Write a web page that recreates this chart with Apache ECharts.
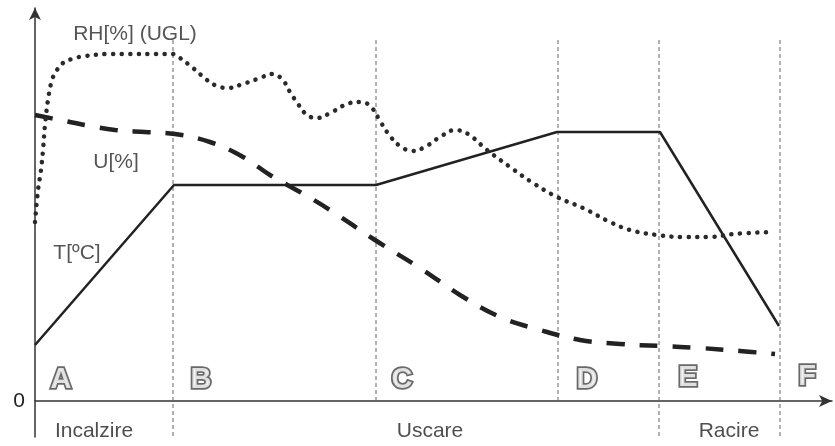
<!DOCTYPE html>
<html>
<head>
<meta charset="utf-8">
<script src="https://cdn.jsdelivr.net/npm/echarts@6/dist/echarts.min.js"></script>
<style>
  html, body { margin: 0; padding: 0; background: #fff; }
  #chart { width: 835px; height: 446px; }
</style>
</head>
<body>
<div id="chart"></div>
<script>
// relative units: x = time along the process, y = level (no scale printed)
var tempPts = [[0, 56], [139, 216], [341, 216], [522, 269], [625, 269], [744, 75]];

var moistPts = [
  [0, 286], [25, 281], [55, 275], [80, 271], [110, 269], [140, 267], [175, 259],
  [208, 244], [235, 226], [265, 209], [295, 191], [340, 161], [385, 133], [425, 106],
  [465, 84], [505, 71], [545, 61], [585, 57], [625, 55], [665, 53], [705, 50], [740, 47]
];

var rhPts = [
  [0, 179], [3, 211], [6, 231], [8, 251], [10, 276], [13, 301], [17, 321], [22, 331],
  [28, 338], [37, 342], [50, 345], [75, 347], [138, 347], [145, 343], [158, 333],
  [172, 321], [182, 315], [193, 313], [205, 316], [225, 323], [237, 327], [247, 322],
  [255, 309], [263, 297], [272, 286], [282, 283], [297, 289], [315, 298], [327, 299],
  [337, 293], [345, 280], [355, 265], [365, 255], [377, 250], [390, 254], [405, 264],
  [420, 271], [433, 267], [452, 251], [475, 234], [498, 218], [522, 204], [548, 193],
  [575, 179], [595, 171], [622, 166], [648, 164], [675, 164], [698, 167], [738, 169]
];

// phase boundaries: x, top, bottom
var bounds = [[138, 361, -36], [341, 361, 0], [523, 361, 0], [624, 361, -36], [745, 361, -36]];

var phaseLetters = [[26, 21, 'A'], [166, 21, 'B'], [367, 21, 'C'], [552, 21, 'D'], [653, 23, 'E'], [772, 24, 'F']];
var phaseNames = [[59, -30, 'Incalzire'], [395, -30, 'Uscare'], [694, -30, 'Racire']];
var curveNames = [[100, 367, 'RH[%] (UGL)'], [81, 239, 'U[%]'], [42, 148, 'T[ºC]']];

var font = '"Liberation Sans", Arial, sans-serif';

var series = [];
bounds.forEach(function (b) {
  series.push({
    type: 'line', data: [[b[0], b[1]], [b[0], b[2]]], symbol: 'none', silent: true,
    lineStyle: { color: '#666', width: 1, type: [4, 3] }, z: 1
  });
});
series.push({
  name: 'T', type: 'line', data: tempPts, symbol: 'none',
  lineStyle: { color: '#222', width: 2.5 }, z: 5
});
series.push({
  name: 'U', type: 'line', data: moistPts, symbol: 'none', smooth: 0.4,
  lineStyle: { color: '#222', width: 4.5, type: [18, 15] }, z: 5
});
series.push({
  name: 'RH', type: 'line', data: rhPts, symbol: 'none', smooth: 0.4,
  lineStyle: { color: '#2a2a2a', width: 4.5, type: [0.1, 8.5], cap: 'round' }, z: 5
});
series.push({
  type: 'scatter', symbolSize: 0, data: curveNames, z: 6,
  label: { show: true, position: 'inside', formatter: function (p) { return p.value[2]; },
    color: '#2a2a2a', fontSize: 21, fontFamily: font }
});
series.push({
  type: 'scatter', symbolSize: 0, data: phaseNames, z: 6,
  label: { show: true, position: 'inside', formatter: function (p) { return p.value[2]; },
    color: '#222', fontSize: 21, fontFamily: font }
});
series.push({
  type: 'scatter', symbolSize: 0, data: phaseLetters, z: 6,
  label: { show: true, position: 'inside', formatter: function (p) { return p.value[2]; },
    color: '#fff', fontSize: 29, fontWeight: 'bold', fontFamily: font,
    textBorderColor: '#444', textBorderWidth: 3.5 }
});

var option = {
  animation: false,
  grid: { left: 35, top: 8, width: 797, height: 429 },
  xAxis: {
    type: 'value', min: 0, max: 797,
    axisLine: { onZero: true, symbol: ['none', 'arrow'], symbolSize: [9, 13],
      lineStyle: { color: '#333', width: 1.5 } },
    axisTick: { show: false }, axisLabel: { show: false }, splitLine: { show: false }
  },
  yAxis: {
    type: 'value', min: -36, max: 393, interval: 12,
    axisLine: { show: true, onZero: false, symbol: ['none', 'arrow'], symbolSize: [9, 12],
      lineStyle: { color: '#333', width: 1.5 } },
    axisTick: { show: false }, splitLine: { show: false },
    axisLabel: { margin: 10, color: '#222', fontSize: 21, fontFamily: font,
      showMaxLabel: false,
      formatter: function (v) { return v === 0 ? '0' : ''; } }
  },
  series: series
};

var myChart = echarts.init(document.getElementById('chart'));
myChart.setOption(option);
</script>
</body>
</html>
